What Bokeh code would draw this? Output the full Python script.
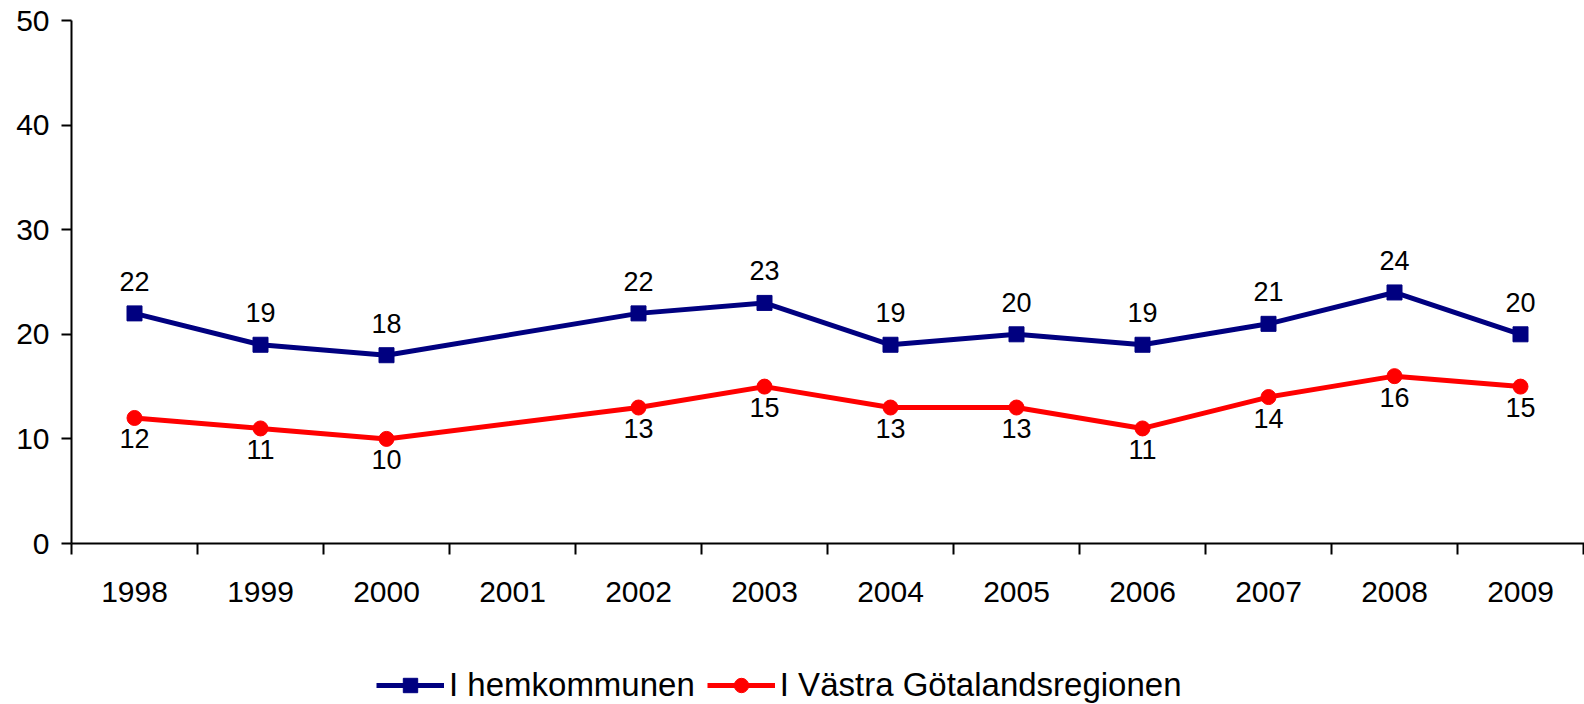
from bokeh.plotting import figure
from bokeh.layouts import column
from bokeh.models import (Range1d, FixedTicker, ColumnDataSource, Legend, LegendItem)
from bokeh.core.properties import value
from bokeh.embed import file_html
from bokeh.resources import INLINE

years = ["1998", "1999", "2000", "2001", "2002", "2003", "2004", "2005",
         "2006", "2007", "2008", "2009"]
hemkommunen = [22, 19, 18, None, 22, 23, 19, 20, 19, 21, 24, 20]
vastra_gotaland = [12, 11, 10, None, 13, 15, 13, 13, 11, 14, 16, 15]
series_names = ["I hemkommunen", "I Västra Götalandsregionen"]
y_ticks = [0, 10, 20, 30, 40, 50]

FONT = "Liberation Sans"
BLUE = "#000080"
RED = "#FF0000"

def make_source(vals):
    xs, ys, labels = [], [], []
    for i, v in enumerate(vals):
        if v is None:
            continue
        xs.append(i)
        ys.append(v)
        labels.append(str(v))
    return ColumnDataSource(dict(x=xs, y=ys, label=labels))

src_h = make_source(hemkommunen)
src_v = make_source(vastra_gotaland)

n = len(years)
W = 1584
H_MAIN, H_LEG = 628, 76
LEFT, TOP = 71, 20
BOTTOM = H_MAIN - 543
step = 126.0
frame_w = W - LEFT
p = figure(width=W, height=H_MAIN, output_backend="svg", toolbar_location=None,
           x_range=Range1d(-0.5, -0.5 + frame_w / step), y_range=Range1d(0, 50),
           min_border_left=LEFT, min_border_right=0, min_border_top=TOP,
           min_border_bottom=BOTTOM)
p.outline_line_color = None
p.xgrid.visible = False
p.ygrid.visible = False
p.background_fill_color = "white"
p.border_fill_color = "white"

# x axis
xa = p.xaxis[0]
xa.ticker = FixedTicker(ticks=list(range(n)),
                        minor_ticks=[i - 0.5 for i in range(n + 1)])
xa.major_label_overrides = {i: y for i, y in enumerate(years)}
xa.major_tick_line_color = None
xa.major_tick_out = 11
xa.major_tick_in = 0
xa.minor_tick_out = 11
xa.minor_tick_in = 0
xa.minor_tick_line_color = "black"
xa.minor_tick_line_width = 2
xa.axis_line_width = 2
xa.axis_line_color = "black"
xa.major_label_text_font = FONT
xa.major_label_text_font_size = "30px"
xa.major_label_text_color = "black"
xa.major_label_standoff = 27

# y axis
ya = p.yaxis[0]
ya.ticker = FixedTicker(ticks=y_ticks)
ya.major_tick_out = 10
ya.major_tick_in = 0
ya.major_tick_line_width = 2
ya.minor_tick_line_color = None
ya.axis_line_width = 2
ya.axis_line_color = "black"
ya.major_label_text_font = FONT
ya.major_label_text_font_size = "30px"
ya.major_label_text_color = "black"
ya.major_label_standoff = 12

# series
line_kw = dict(line_width=5)
p.line("x", "y", source=src_h, line_color=BLUE, **line_kw)
p.scatter("x", "y", source=src_h, marker="square", size=15,
          fill_color=BLUE, line_color=BLUE)
p.line("x", "y", source=src_v, line_color=RED, **line_kw)
p.scatter("x", "y", source=src_v, marker="circle", size=15,
          fill_color=RED, line_color=RED)

# data labels
p.text("x", "y", text="label", source=src_h, text_font=value(FONT),
       text_font_size="27px", text_color="black", text_align="center",
       text_baseline="middle", y_offset=-32)
p.text("x", "y", text="label", source=src_v, text_font=value(FONT),
       text_font_size="27px", text_color="black", text_align="center",
       text_baseline="middle", y_offset=21)

# legend strip below the chart (its series are outside its visible range)
lg = figure(width=W, height=H_LEG, output_backend="svg", toolbar_location=None,
            x_range=Range1d(0, 1), y_range=Range1d(-100, -99),
            min_border_left=0, min_border_right=0, min_border_top=0,
            min_border_bottom=0, x_axis_location=None, y_axis_location=None)
lg.outline_line_color = None
lg.xgrid.visible = False
lg.ygrid.visible = False
ll1 = lg.line("x", "y", source=src_h, line_color=BLUE, **line_kw)
lm1 = lg.scatter("x", "y", source=src_h, marker="square", size=15,
                 fill_color=BLUE, line_color=BLUE)
ll2 = lg.line("x", "y", source=src_v, line_color=RED, **line_kw)
lm2 = lg.scatter("x", "y", source=src_v, marker="circle", size=15,
                 fill_color=RED, line_color=RED)

legend = Legend(items=[LegendItem(label=series_names[0], renderers=[ll1, lm1]),
                       LegendItem(label=series_names[1], renderers=[ll2, lm2])],
                location=(305, 0), orientation="horizontal",
                glyph_width=68, glyph_height=36, label_standoff=5, spacing=12,
                padding=0, margin=0, border_line_color=None,
                background_fill_alpha=0, label_text_font=FONT,
                label_text_font_size="33px", label_text_color="black",
                label_height=36)
lg.add_layout(legend, "center")

layout = column(p, lg, spacing=0)
open("out.html", "w").write(file_html(layout, INLINE))
